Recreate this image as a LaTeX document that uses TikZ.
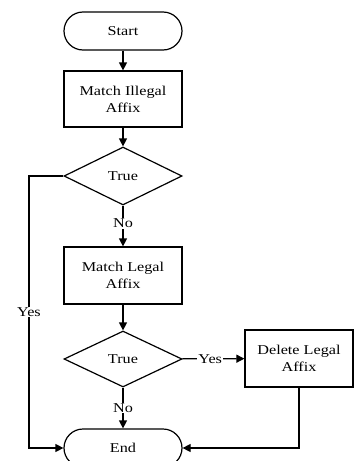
\documentclass[tikz,border=0pt]{standalone}
\usepackage{fontspec}
\setmainfont[FakeStretch=1.2]{Liberation Serif}
\usetikzlibrary{shapes.geometric,arrows.meta}
\begin{document}
\begin{tikzpicture}[x=1pt,y=-1pt,
  every node/.style={font=\fontsize{13.5}{17}\selectfont, align=center},
  base/.style={draw, line width=1.2pt, inner sep=0pt},
  term/.style={base, rectangle, rounded corners=19pt, minimum width=118pt, minimum height=38pt},
  proc/.style={base, rectangle, minimum width=118pt, minimum height=56pt},
  dec/.style={base, diamond, minimum width=118pt, minimum height=58pt},
  lbl/.style={fill=white, inner sep=1pt},
  arr/.style={line width=1.2pt, -{Triangle[length=8pt,width=8pt]}},
  ln/.style={line width=1.2pt}]
\useasboundingbox (0,0) rectangle (354,461);
\clip (0,0) rectangle (354,461);
\node[term] (start) at (123,31) {Start};
\node[proc] (m1) at (123,99) {Match Illegal\\Affix};
\node[dec] (d1) at (123,176) {True};
\node[proc, minimum height=57pt] (m2) at (123,275.5) {Match Legal\\Affix};
\node[dec, minimum height=56pt] (d2) at (123,359) {True};
\node[proc, minimum width=108pt, minimum height=57pt] (del) at (299,358.5) {Delete Legal\\Affix};
\node[term] (end) at (123,448) {End};
\coordinate (yl) at (29,176);
\draw[arr] (start) -- (m1);
\draw[arr] (m1) -- (d1);
\draw[arr] (d1) -- node[lbl, pos=0.43] {No} (m2);
\draw[arr] (m2) -- (d2);
\draw[arr] (d2) -- node[lbl, pos=0.45] {Yes} (del);
\draw[arr] (d2) -- node[lbl, pos=0.5] {No} (end);
\draw[arr] (d1.west) -- (yl) |- node[lbl, pos=0.25] {Yes} (end.west);
\draw[arr] (del.south) |- (end.east);
\end{tikzpicture}
\end{document}
